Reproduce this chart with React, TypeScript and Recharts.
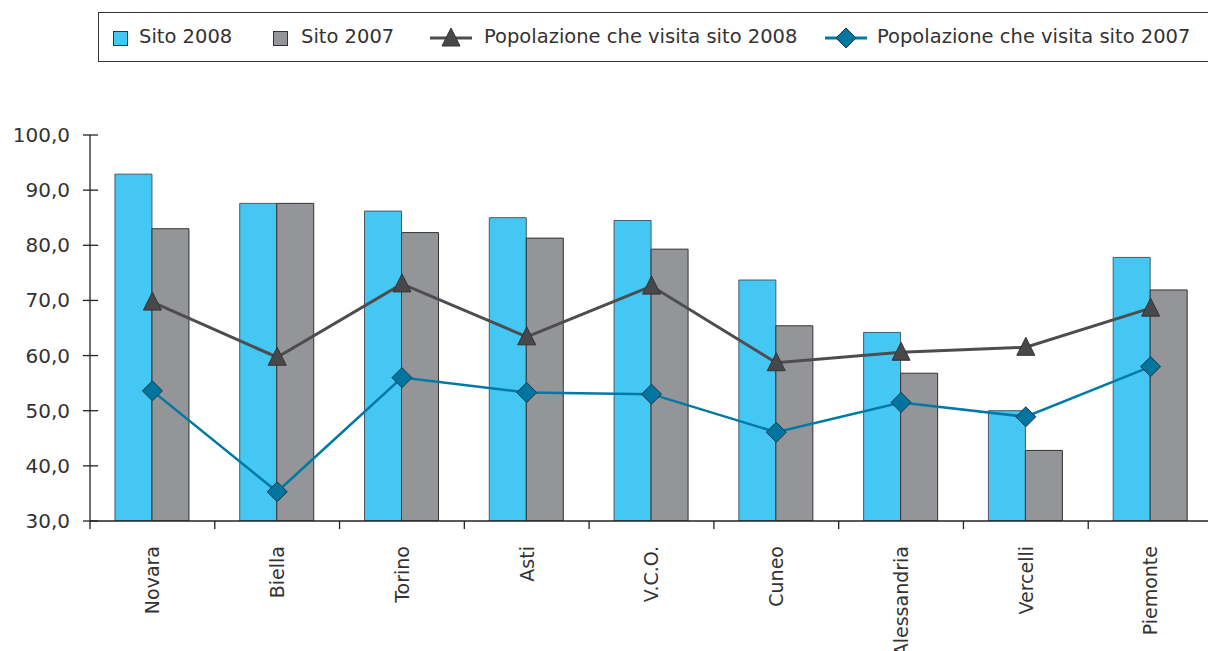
import React from "react";
import { ComposedChart, Bar, Line, XAxis, YAxis } from "recharts";

const provinces = ["Novara", "Biella", "Torino", "Asti", "V.C.O.", "Cuneo", "Alessandria", "Vercelli", "Piemonte"];
const sito2008 = [92.9, 87.6, 86.2, 85.0, 84.5, 73.7, 64.2, 50.0, 77.8];
const sito2007 = [83.0, 87.6, 82.3, 81.3, 79.3, 65.4, 56.8, 42.8, 71.9];
const pop2008 = [69.7, 59.7, 73.0, 63.4, 72.6, 58.7, 60.6, 61.5, 68.6];
const pop2007 = [53.6, 35.3, 56.0, 53.3, 53.0, 46.1, 51.5, 48.9, 58.0];
const yTicks = [30, 40, 50, 60, 70, 80, 90, 100];

const COLORS = {
  sito2008: "#45c7f4",
  sito2007: "#939598",
  pop2008: "#4d4d4f",
  pop2007: "#007aa5",
};

const FONT = "'DejaVu Sans', sans-serif";

const data = provinces.map((name, i) => ({
  name,
  sito2008: sito2008[i],
  sito2007: sito2007[i],
  pop2008: pop2008[i],
  pop2007: pop2007[i],
}));

const Triangle = (props: any) => {
  const { cx, cy } = props;
  if (cx == null || cy == null) return null;
  return (
    <path
      d={`M${cx},${cy - 10} L${cx + 9},${cy + 8} L${cx - 9},${cy + 8} Z`}
      fill="#48484a"
      stroke="#333"
      strokeWidth={1}
    />
  );
};

const Diamond = (props: any) => {
  const { cx, cy } = props;
  if (cx == null || cy == null) return null;
  return (
    <path
      d={`M${cx},${cy - 10} L${cx + 10},${cy} L${cx},${cy + 10} L${cx - 10},${cy} Z`}
      fill="#00759f"
      stroke="#1d3644"
      strokeWidth={1}
    />
  );
};

const YTick = (props: any) => {
  const { x, y, payload } = props;
  return (
    <g>
      <line x1={x - 7} x2={x + 8} y1={y} y2={y} stroke="#222" strokeWidth={1.3} />
      <text x={x - 20} y={y} dy={7} textAnchor="end" fontSize={20} fill="#333" fontFamily={FONT}>
        {payload.value.toFixed(1).replace(".", ",")}
      </text>
    </g>
  );
};

const XTick = (props: any) => {
  const { x, y, payload } = props;
  const bx = x - (payload.offset || 0);
  return (
    <g>
      <line x1={bx} x2={bx} y1={y} y2={y + 8} stroke="#222" strokeWidth={1.3} />
      <text
        x={x}
        y={y + 25}
        dy="0.36em"
        textAnchor="end"
        transform={`rotate(-90, ${x}, ${y + 25})`}
        fontSize={19}
        fill="#333"
        fontFamily={FONT}
      >
        {payload.value}
      </text>
    </g>
  );
};

const legendText: React.CSSProperties = {
  position: "absolute",
  top: 12,
  fontSize: 19.5,
  color: "#333",
  whiteSpace: "nowrap",
  lineHeight: "24px",
};

const Square = ({ left, color }: { left: number; color: string }) => (
  <div
    style={{
      position: "absolute",
      left,
      top: 18,
      width: 13,
      height: 13,
      background: color,
      border: "1px solid #333",
    }}
  />
);

const LineIcon = ({ left, color, marker }: { left: number; color: string; marker: "tri" | "dia" }) => (
  <svg style={{ position: "absolute", left, top: 14 }} width={42} height={22}>
    <line x1={0} x2={42} y1={11} y2={11} stroke={color} strokeWidth={3} />
    {marker === "tri" ? <Triangle cx={21} cy={11} /> : <Diamond cx={21} cy={11} />}
  </svg>
);

export default function App() {
  return (
    <div
      style={{
        position: "absolute",
        left: 0,
        top: 0,
        width: 1208,
        height: 651,
        overflow: "hidden",
        background: "#fff",
        fontFamily: FONT,
      }}
    >
      {/* legend box */}
      <div
        style={{
          position: "absolute",
          left: 98,
          top: 12,
          width: 1140,
          height: 48,
          borderTop: "1.5px solid #333",
          borderBottom: "1.5px solid #333",
          borderLeft: "1.5px solid #333",
        }}
      >
        <Square left={14} color={COLORS.sito2008} />
        <span style={{ ...legendText, left: 40 }}>Sito 2008</span>
        <Square left={174} color={COLORS.sito2007} />
        <span style={{ ...legendText, left: 202 }}>Sito 2007</span>
        <LineIcon left={331} color={COLORS.pop2008} marker="tri" />
        <span style={{ ...legendText, left: 385 }}>Popolazione che visita sito 2008</span>
        <LineIcon left={726} color={COLORS.pop2007} marker="dia" />
        <span style={{ ...legendText, left: 778 }}>Popolazione che visita sito 2007</span>
      </div>

      <ComposedChart
        width={1213}
        height={651}
        data={data}
        margin={{ top: 135, right: 0, bottom: 0, left: 0 }}
        barGap={0}
        barCategoryGap="20%"
      >
        <XAxis
          dataKey="name"
          height={130}
          axisLine={{ stroke: "#222", strokeWidth: 1.3 }}
          tickLine={false}
          tickSize={0}
          tickMargin={0}
          interval={0}
          tick={<XTick />}
        />
        <YAxis
          domain={[30, 100]}
          ticks={yTicks}
          width={90}
          axisLine={{ stroke: "#222", strokeWidth: 1.3 }}
          tickLine={false}
          tickSize={0}
          tickMargin={0}
          allowDataOverflow
          tick={<YTick />}
        />
        <Bar dataKey="sito2008" fill={COLORS.sito2008} stroke="#4a5a63" strokeWidth={1} isAnimationActive={false} />
        <Bar dataKey="sito2007" fill={COLORS.sito2007} stroke="#333" strokeWidth={1} isAnimationActive={false} />
        <Line
          dataKey="pop2008"
          stroke={COLORS.pop2008}
          strokeWidth={3}
          dot={<Triangle />}
          activeDot={false}
          isAnimationActive={false}
        />
        <Line
          dataKey="pop2007"
          stroke={COLORS.pop2007}
          strokeWidth={2.5}
          dot={<Diamond />}
          activeDot={false}
          isAnimationActive={false}
        />
      </ComposedChart>
    </div>
  );
}
